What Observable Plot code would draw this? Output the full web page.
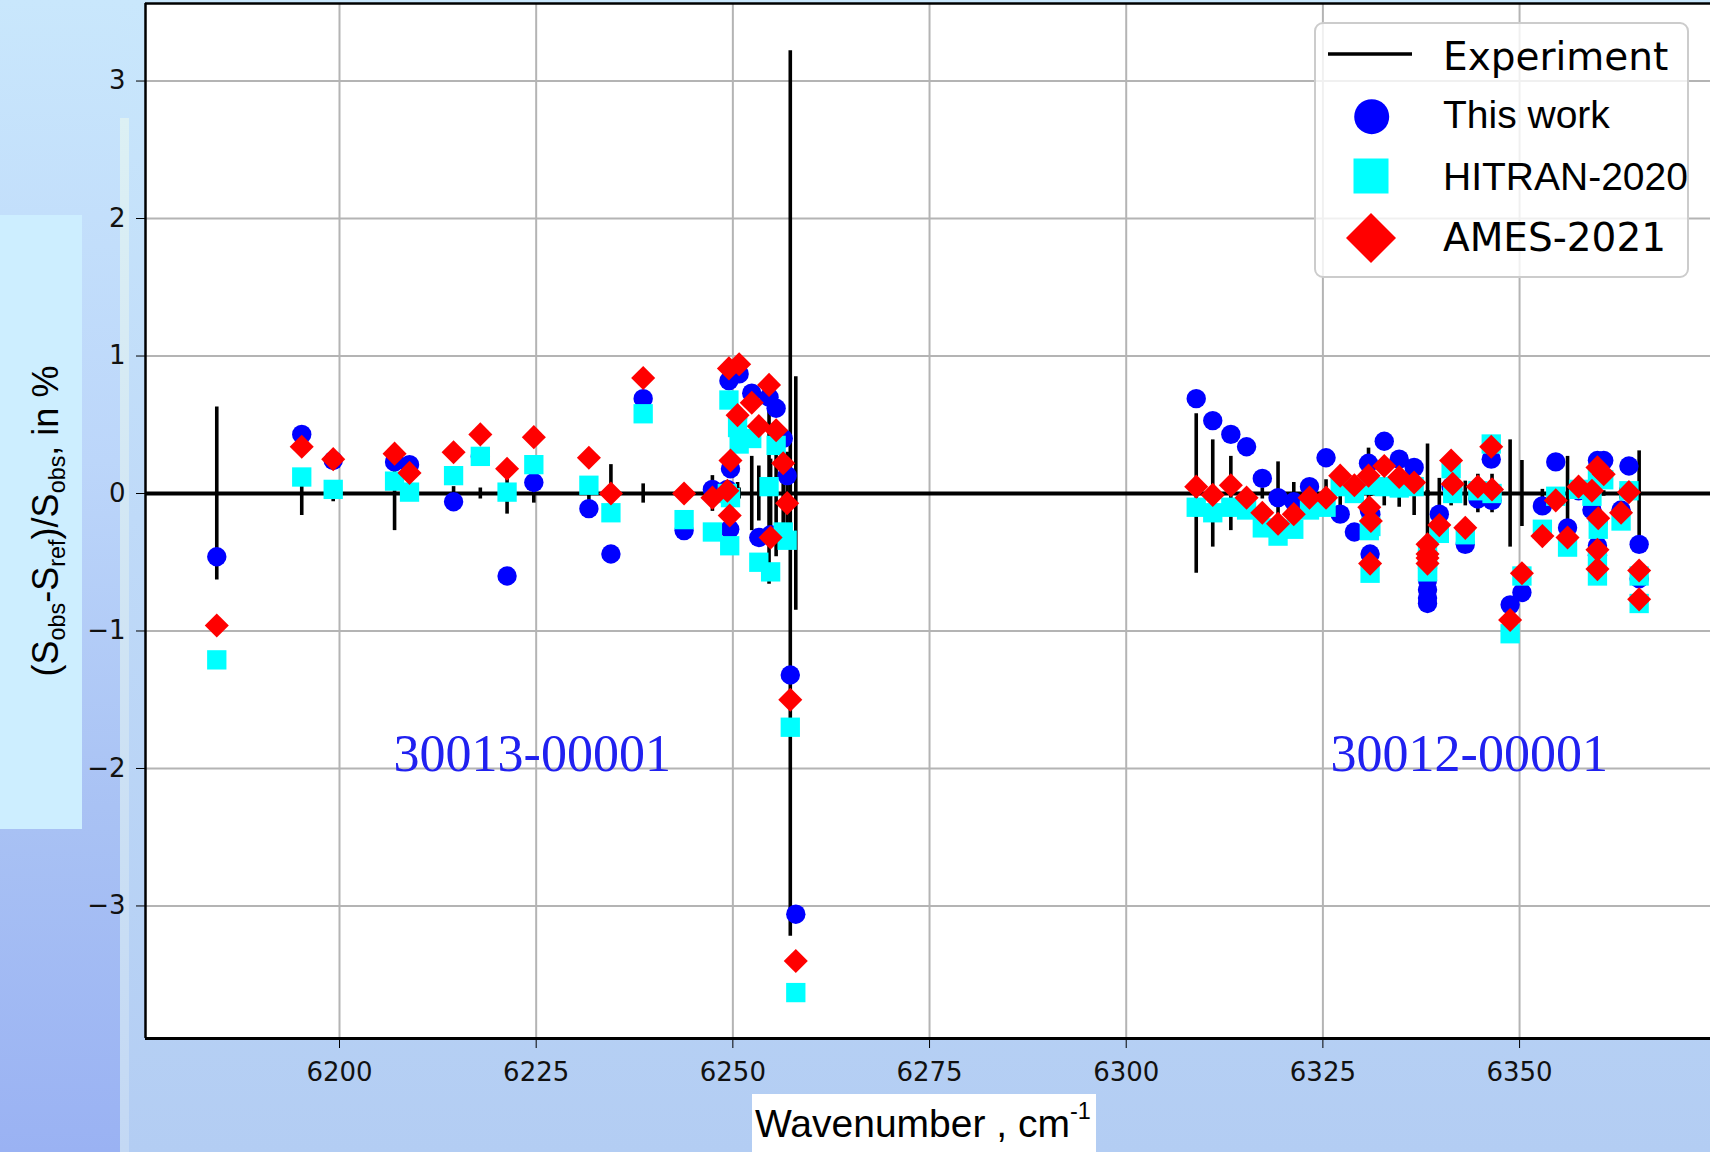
<!DOCTYPE html>
<html><head><meta charset="utf-8">
<script src="https://cdn.jsdelivr.net/npm/d3@7"></script>
<script src="https://cdn.jsdelivr.net/npm/@observablehq/plot@0.6"></script>
<style>
html,body{margin:0;padding:0;}
body{width:1710px;height:1152px;overflow:hidden;position:relative;
  background:linear-gradient(to bottom,#c9e7fc 0%,#bfdaf8 45%,#b3cdf3 100%);}
#leftcol{position:absolute;left:0;top:0;width:120px;height:1152px;
  background:linear-gradient(to bottom,#c9e7fc 0%,#bcd6fa 40%,#a9c2f4 70%,#9ab2f3 100%);}
#strip{position:absolute;left:120px;top:118px;width:9px;height:1034px;background:linear-gradient(to bottom,#dcf0f4,#c3d8f4);}
#ylabbox{position:absolute;left:0;top:215px;width:82px;height:614px;background:#cdeeff;}
#ylab{position:absolute;left:49px;top:521px;transform:translate(-50%,-50%) rotate(-90deg);white-space:nowrap;
  font-family:"Liberation Sans",Arial,sans-serif;font-size:36px;color:#000;line-height:1;}
#ylab sub{font-size:0.65em;vertical-align:-0.3em;}
#chart{position:absolute;left:0;top:0;}
#xlabbox{position:absolute;left:752px;top:1094px;width:344px;height:58px;background:#fff;}
#xlab{position:absolute;left:755px;top:1104px;white-space:nowrap;font-family:"Liberation Sans",Arial,sans-serif;font-size:39px;line-height:1;color:#000;}
#xlab sup{font-size:0.6em;vertical-align:0.75em;line-height:0;}
#legend{position:absolute;left:1300px;top:0;}
</style>
</head><body>
<div id="leftcol"></div>
<div id="strip"></div>
<div id="ylabbox"></div>
<div id="chart"></div>
<div id="ylab">(S<sub>obs</sub>-S<sub>ref</sub>)/S<sub>obs</sub>, in %</div>
<div id="xlabbox"></div>
<div id="xlab">Wavenumber , cm<sup>-1</sup></div>
<svg id="legend" width="410" height="290" xmlns="http://www.w3.org/2000/svg"></svg>
<script>
// ---- data ----
const wavenumber = [6184.4,6195.2,6199.2,6207.0,6208.9,6214.5,6217.9,6221.3,6224.7,6231.7,6234.5,6238.6,6243.8,6247.4,
  6249.5,6250.8,6249.7,6249.6,6249.3,6250.6,6252.4,6253.3,6254.6,6254.8,6255.5,6256.4,6256.9,6257.3,6258.0,
  6308.9,6311.0,6313.3,6315.3,6317.3,6319.3,6321.3,6323.3,6325.4,6327.2,
  6329.0,6330.8,6331.0,6330.9,6331.1,6332.8,6334.7,6336.6,6338.3,6338.3,
  6338.3,6338.3,6339.8,6341.3,6341.5,6343.1,6344.7,6346.5,6346.4,6348.8,
  6350.3,6352.9,6354.6,6356.1,6357.5,6359.2,6359.9,6360.7,6359.9,6359.9,
  6360.0,6362.9,6363.9,6365.2,6365.2];
const experimentErr = [0.63,0.16,0.06,0.27,0.02,0.05,0.04,0.15,0.07,0.05,0.21,0.07,0.02,0.13,
  0.04,0.04,0.03,0.03,0.03,0.08,0.27,0.20,0.66,0.25,0.46,0.40,0.30,3.22,0.85,
  0.58,0.39,0.27,0.03,0.04,0.23,0.08,0.03,0.10,0.10,
  0.03,0.33,0.02,0.02,0.02,0.09,0.10,0.16,0.36,0.02,
  0.02,0.02,0.11,0.09,0.02,0.09,0.14,0.14,0.02,0.39,
  0.24,0.03,0.04,0.27,0.05,0.04,0.04,0.02,0.02,0.02,
  0.02,0.04,0.03,0.31,0.02];
const thisWork = [-0.46,0.43,0.24,0.23,0.21,-0.06,0.27,-0.60,0.08,-0.11,-0.44,0.69,-0.27,0.03,
  0.82,0.87,0.18,-0.26,0.03,0.55,0.73,-0.32,0.70,-0.30,0.62,0.40,0.13,-1.32,-3.06,
  0.69,0.53,0.43,0.34,0.11,-0.03,-0.06,0.05,0.26,-0.15,
  -0.28,0.22,-0.44,-0.12,-0.15,0.38,0.25,0.19,-0.63,-0.70,
  -0.76,-0.80,-0.15,0.05,0.03,-0.37,-0.04,-0.05,0.25,-0.81,
  -0.72,-0.09,0.23,-0.25,0.02,-0.12,0.24,0.24,-0.38,-0.45,
  -0.20,-0.12,0.20,-0.37,-0.62];
const hitran2020 = [-1.21,0.12,0.03,0.09,0.01,0.13,0.27,0.01,0.21,0.06,-0.14,0.58,-0.19,-0.28,
  0.68,0.36,-0.03,-0.38,0.00,0.48,0.40,-0.50,0.05,-0.57,0.35,-0.28,-0.34,-1.70,-3.63,
  -0.10,-0.14,-0.10,-0.12,-0.25,-0.31,-0.26,-0.12,-0.10,0.05,
  0.00,0.06,-0.58,-0.27,-0.24,0.05,0.04,0.05,-0.42,-0.48,
  -0.55,-0.57,-0.29,0.18,0.00,-0.30,0.02,0.00,0.36,-1.02,
  -0.60,-0.26,-0.02,-0.39,0.03,-0.02,0.12,0.10,-0.46,-0.60,
  -0.26,-0.20,0.02,-0.60,-0.80];
const ames2021 = [-0.96,0.34,0.25,0.29,0.15,0.30,0.43,0.18,0.41,0.26,0.00,0.84,0.00,-0.03,
  0.91,0.94,0.24,-0.16,0.02,0.57,0.66,0.49,0.79,-0.32,0.46,0.22,-0.07,-1.50,-3.40,
  0.05,-0.01,0.06,-0.03,-0.14,-0.22,-0.15,-0.03,-0.03,0.13,
  0.06,0.13,-0.51,-0.10,-0.20,0.20,0.12,0.08,-0.37,-0.44,
  -0.51,-0.47,-0.23,0.24,0.07,-0.25,0.05,0.03,0.34,-0.92,
  -0.58,-0.31,-0.05,-0.32,0.05,0.02,0.19,0.14,-0.41,-0.55,
  -0.18,-0.14,0.01,-0.56,-0.77];
const xTicks = [6200,6225,6250,6275,6300,6325,6350];
const yTicks = [-3,-2,-1,0,1,2,3];
const bandLabels = ["30013-00001","30012-00001"];
const bandLabelX = [6224.5,6343.6];
const bandLabelY = [-2.02,-2.02];
const seriesNames = ["Experiment","This work","HITRAN-2020","AMES-2021"];

// ---- table for the library ----
const rows = wavenumber.map((x,i)=>({x, err:experimentErr[i], tw:thisWork[i], hi:hitran2020[i], am:ames2021[i]}));
const labels = bandLabels.map((t,i)=>({t, x:bandLabelX[i], y:bandLabelY[i]}));

const X0 = 6175.34, X1 = 6374.27, Y0 = -3.964, Y1 = 3.564;
const fmtY = d => d < 0 ? "\u2212" + (-d) : String(d);

const chart = Plot.plot({
  width:1710, height:1152,
  marginLeft:145, marginRight:0, marginTop:3, marginBottom:114,
  style:{background:"transparent", fontFamily:"'DejaVu Sans', sans-serif", fontSize:"26px", color:"black", overflow:"visible"},
  x:{domain:[X0,X1]},
  y:{domain:[Y0,Y1]},
  marks:[
    Plot.frame({fill:"white", stroke:null}),
    Plot.gridX(xTicks,{stroke:"#b4b4b4", strokeOpacity:1, strokeWidth:2}),
    Plot.gridY(yTicks,{stroke:"#b4b4b4", strokeOpacity:1, strokeWidth:2}),
    Plot.ruleY([0],{stroke:"black", strokeWidth:4}),
    Plot.ruleX(rows,{x:"x", y1:d=>-d.err, y2:d=>d.err, stroke:"black", strokeWidth:3.6}),
    Plot.dot(rows,{x:"x", y:"tw", r:9.7, fill:"#0000ff", symbol:"circle"}),
    Plot.dot(rows,{x:"x", y:"hi", r:10.9, fill:"#00ffff", symbol:"square"}),
    Plot.dot(rows,{x:"x", y:"am", r:9.6, fill:"#ff0000", symbol:"square", rotate:45}),
    Plot.text(labels,{x:"x", y:"y", text:"t", fill:"#2020f0", fontSize:52, fontFamily:"'Liberation Serif', 'Times New Roman', serif", textAnchor:"middle", lineAnchor:"bottom"}),
    Plot.ruleX([X0],{stroke:"black", strokeWidth:2.5}),
    Plot.ruleY([Y1],{stroke:"black", strokeWidth:2.5}),
    Plot.ruleY([Y0],{stroke:"black", strokeWidth:3}),
    Plot.axisX(xTicks,{tickFormat:d=>String(d), label:null, tickSize:10, tickPadding:14, fontSize:26, stroke:"black", fill:"#111"}),
    Plot.axisY(yTicks,{tickFormat:fmtY, label:null, tickSize:9, tickPadding:11, fontSize:26, stroke:"black", fill:"#111"})
  ]
});
document.getElementById("chart").appendChild(chart);

// ---- legend (inside plot area, upper right) ----
const lg = d3.select("#legend");
lg.append("rect").attr("x",15).attr("y",23).attr("width",373).attr("height",254).attr("rx",8)
  .attr("fill","white").attr("fill-opacity",0.8).attr("stroke","#cccccc").attr("stroke-width",2);
lg.append("line").attr("x1",28).attr("x2",112).attr("y1",54).attr("y2",54).attr("stroke","black").attr("stroke-width",3.6);
lg.append("circle").attr("cx",71.7).attr("cy",116.7).attr("r",17.5).attr("fill","#0000ff");
lg.append("rect").attr("x",53.5).attr("y",158.5).attr("width",35).attr("height",35).attr("fill","#00ffff");
lg.append("path").attr("d","M71,213L96,238L71,263L46,238Z").attr("fill","#ff0000");
const fonts = ["'DejaVu Sans',sans-serif","'Liberation Sans',Arial,sans-serif","'Liberation Sans',Arial,sans-serif","'DejaVu Sans',sans-serif"];
const baselines = [70,128,190,251];
seriesNames.forEach((s,i)=>{
  lg.append("text").attr("x",143).attr("y",baselines[i]).attr("font-family",fonts[i]).attr("font-size",39).attr("fill","black").text(s);
});
</script>
</body></html>
